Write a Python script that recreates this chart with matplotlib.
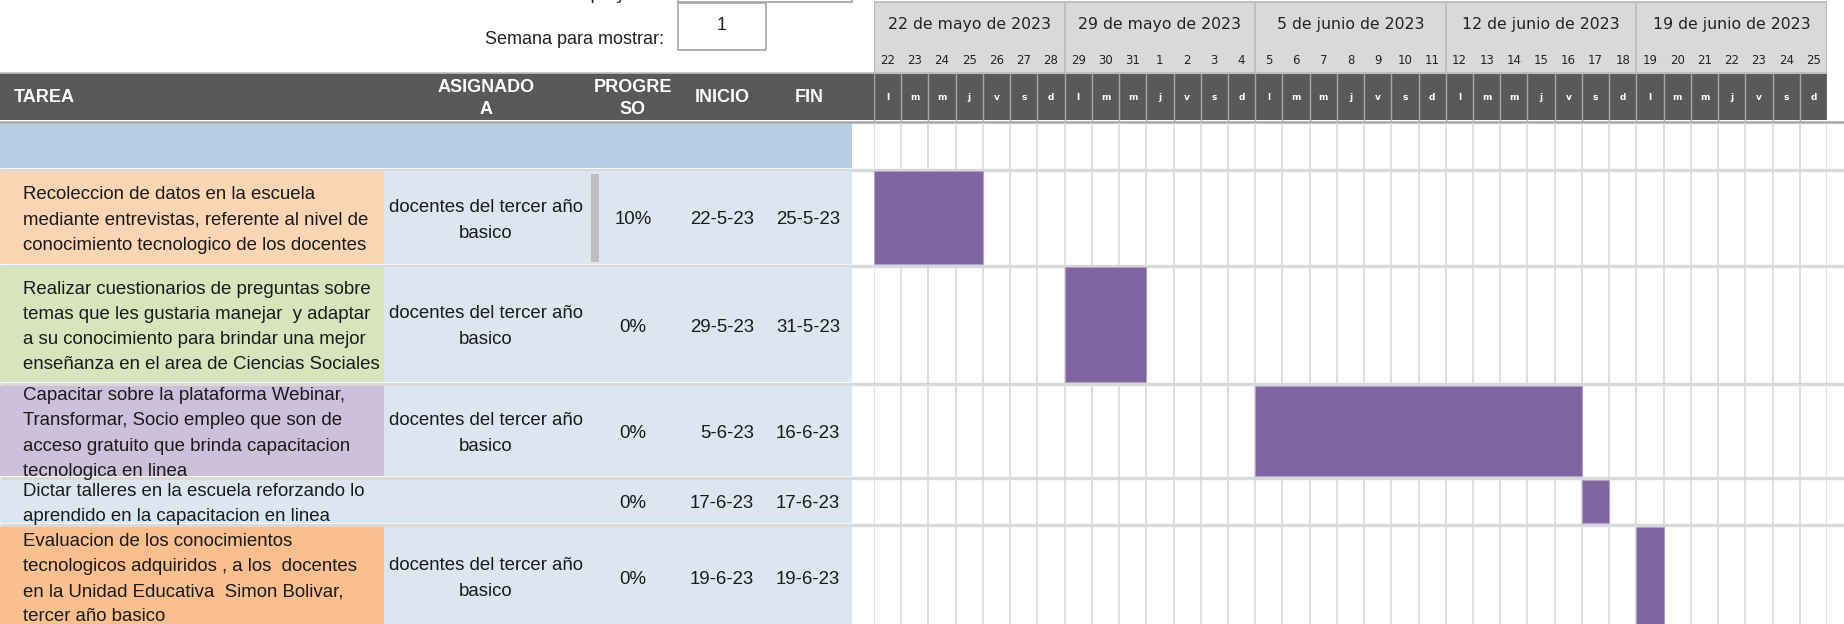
import datetime as dt
import matplotlib
matplotlib.use("Agg")
import matplotlib.pyplot as plt
from matplotlib.patches import Rectangle

# ---------------- data ----------------
tasks = [
    "Recoleccion de datos en la escuela\nmediante entrevistas, referente al nivel de\nconocimiento tecnologico de los docentes",
    "Realizar cuestionarios de preguntas sobre\ntemas que les gustaria manejar  y adaptar\na su conocimiento para brindar una mejor\nenseñanza en el area de Ciencias Sociales",
    "Capacitar sobre la plataforma Webinar,\nTransformar, Socio empleo que son de\nacceso gratuito que brinda capacitacion\ntecnologica en linea",
    "Dictar talleres en la escuela reforzando lo\naprendido en la capacitacion en linea",
    "Evaluacion de los conocimientos\ntecnologicos adquiridos , a los  docentes\nen la Unidad Educativa  Simon Bolivar,\ntercer año basico",
]
assigned = [
    "docentes del tercer año\nbasico",
    "docentes del tercer año\nbasico",
    "docentes del tercer año\nbasico",
    "",
    "docentes del tercer año\nbasico",
]
progress = [0.10, 0.0, 0.0, 0.0, 0.0]
start_dates = ["2023-05-22", "2023-05-29", "2023-06-05", "2023-06-17", "2023-06-19"]
end_dates = ["2023-05-25", "2023-05-31", "2023-06-16", "2023-06-17", "2023-06-19"]
start_labels = ["22-5-23", "29-5-23", "5-6-23", "17-6-23", "19-6-23"]
end_labels = ["25-5-23", "31-5-23", "16-6-23", "17-6-23", "19-6-23"]
task_colors = ["#FCD5B4", "#D8E4BC", "#CCC0DA", "#DCE6F1", "#FABF8F"]
project_start = "2023-05-22"
n_days = 35
week_labels = ["22 de mayo de 2023", "29 de mayo de 2023", "5 de junio de 2023",
               "12 de junio de 2023", "19 de junio de 2023"]
day_letters = ["l", "m", "m", "j", "v", "s", "d"]
week_shown = "1"

# ---------------- layout ----------------
W, H = 1844, 624
fig = plt.figure(figsize=(W / 100, H / 100), dpi=100)
ax = fig.add_axes([0, 0, 1, 1])
ax.set_xlim(0, W)
ax.set_ylim(H, 0)
ax.axis("off")

BODY = "Liberation Sans"
FS = 13.4
row_tops = [171, 267, 386, 480, 527]
row_bots = [264, 382, 476, 523, 626]   # last row's text block is centred on this
TASK_R = 384
LEFT_R = 852
GX0, GX1 = 874, 1827
HDR_T, HDR_B = 73, 120
TOFF = 2.5

# top controls
ax.text(664, -1.0, "Inicio del proyecto:", ha="right", va="baseline", fontsize=13,
        family=BODY, color="#222222")
ax.add_patch(Rectangle((678, -10), 174, 12, fc="white", ec="#A6A6A6", lw=1.2))
ax.text(664, 40, "Semana para mostrar:", ha="right", va="center", fontsize=13,
        family=BODY, color="#222222")
ax.add_patch(Rectangle((678, 3), 88, 47, fc="white", ec="#A6A6A6", lw=1.2))
ax.text(722, 26, week_shown, ha="center", va="center", fontsize=13, family=BODY,
        color="#222222")

# dark header bar
ax.add_patch(Rectangle((0, HDR_T), GX1, HDR_B - HDR_T, fc="#595959", ec="none"))
ax.plot([0, GX0], [HDR_T, HDR_T], color="#BFBFBF", lw=1.2)
ax.plot([0, W], [122, 122], color="#A6A6A6", lw=1.8)
hfont = dict(color="white", fontsize=13, fontweight="bold", family=BODY)
ax.text(14, 98, "TAREA", ha="left", va="center", **hfont)
ax.text(486, 87, "ASIGNADO", ha="center", va="center", **hfont)
ax.text(486, 110, "A", ha="center", va="center", **hfont)
ax.text(633, 87, "PROGRE", ha="center", va="center", **hfont)
ax.text(633, 110, "SO", ha="center", va="center", **hfont)
ax.text(722, 98, "INICIO", ha="center", va="center", **hfont)
ax.text(809, 98, "FIN", ha="center", va="center", **hfont)

# blank blue row
ax.add_patch(Rectangle((0, 124), LEFT_R, 44, fc="#B8CCE4", ec="none"))

# row separators
seps = [169.5] + [(row_bots[i] + row_tops[i + 1]) / 2 for i in range(len(row_tops) - 1)]
for y in seps:
    ax.plot([0, W], [y, y], color="#D9D9D9", lw=2.4, solid_capstyle="butt", zorder=1)

# left table rows
last = len(row_tops) - 1
for i, (t, b) in enumerate(zip(row_tops, row_bots)):
    cy = (t + b) / 2 + TOFF
    fill_b = H + 10 if i == last else b
    h = fill_b - t
    ax.add_patch(Rectangle((0, t), TASK_R, h, fc=task_colors[i], ec="none", zorder=2))
    ax.add_patch(Rectangle((TASK_R, t), LEFT_R - TASK_R, h, fc="#DCE6F1", ec="none", zorder=2))
    clip = Rectangle((0, t), TASK_R, h, transform=ax.transData)
    lines = tasks[i].split("\n")
    n = len(lines)
    lh = 25.2
    y0 = cy - (n - 1) * lh / 2
    for k, line in enumerate(lines):
        tx = ax.text(23, y0 + k * lh, line, ha="left", va="center", fontsize=FS,
                     family=BODY, color="#1a1a1a", zorder=3)
        tx.set_clip_path(clip)
    if assigned[i]:
        al = assigned[i].split("\n")
        for k, line in enumerate(al):
            ax.text(486, cy + (k - (len(al) - 1) / 2) * 26, line, ha="center", va="center",
                    fontsize=FS, family=BODY, color="#1a1a1a", zorder=3)
    if progress[i] > 0:
        ax.add_patch(Rectangle((591, t + 3), progress[i] * 80, (b - t) - 5, fc="#BFBFBF",
                               ec="none", zorder=2.5))
    ax.text(633, cy, f"{round(progress[i] * 100)}%", ha="center", va="center",
            fontsize=FS, family=BODY, color="#1a1a1a", zorder=3)
    ax.text(754, cy, start_labels[i], ha="right", va="center", fontsize=FS,
            family=BODY, color="#1a1a1a", zorder=3)
    ax.text(840, cy, end_labels[i], ha="right", va="center", fontsize=FS,
            family=BODY, color="#1a1a1a", zorder=3)

# ---------------- gantt axes (x in days) ----------------
gax = fig.add_axes([GX0 / W, 0, (GX1 - GX0) / W, 1])
gax.set_xlim(0, n_days)
gax.set_ylim(H, 0)
gax.axis("off")
gax.patch.set_alpha(0)

p0 = dt.date.fromisoformat(project_start)
days = [p0 + dt.timedelta(days=i) for i in range(n_days)]

gax.add_patch(Rectangle((0, 2), n_days, 71, fc="#D9D9D9", ec="#BFBFBF", lw=1.5))
for w in range(1, n_days // 7):
    gax.plot([w * 7, w * 7], [2, 73], color="#BFBFBF", lw=1.5)
for w, lab in enumerate(week_labels):
    gax.text(w * 7 + 3.5, 24, lab, ha="center", va="center", fontsize=11.3,
             family="DejaVu Sans", color="#222222")
for i, d in enumerate(days):
    gax.text(i + 0.5, 61, str(d.day), ha="center", va="center", fontsize=8.5,
             family="DejaVu Sans", color="#222222")
    gax.text(i + 0.5, 98, day_letters[d.weekday()], ha="center", va="center",
             fontsize=6.5, family="DejaVu Sans", color="white", fontweight="bold")
for i in range(n_days + 1):
    gax.plot([i, i], [HDR_T, HDR_B], color="#A6A6A6", lw=1.0)
    gax.plot([i, i], [124, H], color="#D9D9D9", lw=1.2, zorder=0.5)

starts = [(dt.date.fromisoformat(s) - p0).days for s in start_dates]
durs = [(dt.date.fromisoformat(e) - dt.date.fromisoformat(s)).days + 1
        for s, e in zip(start_dates, end_dates)]
bar_bots = row_bots[:-1] + [H + 10]
centers = [(t + b) / 2 for t, b in zip(row_tops, bar_bots)]
heights = [b - t for t, b in zip(row_tops, bar_bots)]
gax.barh(centers, durs, left=starts, height=heights, color="#8064A2",
         edgecolor="#B1A0C7", linewidth=0.8, zorder=3)

fig.savefig("out.png", dpi=100, facecolor="white")
